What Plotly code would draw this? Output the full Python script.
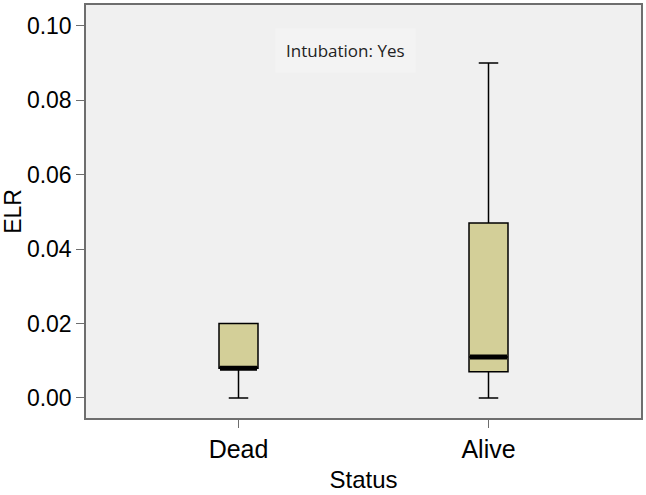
import plotly.graph_objects as go

categories = ["Dead", "Alive"]
lower_whisker = [0.0, 0.0]
q1_vals = [0.008, 0.007]
median_vals = [0.008, 0.011]
q3_vals = [0.020, 0.047]
upper_whisker = [0.020, 0.090]
y_ticks = [0.00, 0.02, 0.04, 0.06, 0.08, 0.10]
y_tick_labels = ["0.00", "0.02", "0.04", "0.06", "0.08", "0.10"]
panel_label = "Intubation: Yes"

fig = go.Figure()
fig.add_trace(go.Box(
    x=categories, q1=q1_vals, median=median_vals, q3=q3_vals,
    lowerfence=lower_whisker, upperfence=upper_whisker,
    fillcolor="#d3cf98", line=dict(color="black", width=1.5),
    width=0.156, whiskerwidth=0.5, boxpoints=False, showlegend=False,
))
# thick median bar (SPSS style)
fig.add_trace(go.Box(
    x=categories, q1=median_vals, median=median_vals, q3=median_vals,
    lowerfence=median_vals, upperfence=median_vals,
    fillcolor="black", line=dict(color="black", width=5),
    width=0.148, whiskerwidth=0, boxpoints=False, showlegend=False,
))

font = "Liberation Sans, Arial, sans-serif"
fig.update_layout(
    width=646, height=495,
    margin=dict(l=86, r=5, t=5, b=77),
    paper_bgcolor="white", plot_bgcolor="#f0f0f0",
    font=dict(family=font, size=22, color="black"),
    boxmode="overlay",
    xaxis=dict(
        range=[-0.61, 1.61], showgrid=False, zeroline=False, automargin=False,
        showline=True, linecolor="#6e6e6e", linewidth=1.5, mirror=True,
        ticks="outside", ticklen=8, tickcolor="#6e6e6e",
        tickfont=dict(size=25),
        title=dict(text="Status", font=dict(size=24), standoff=9),
    ),
    yaxis=dict(
        range=[-0.0054, 0.1056], showgrid=False, zeroline=False, automargin=False,
        tickvals=y_ticks, ticktext=y_tick_labels,
        showline=True, linecolor="#6e6e6e", linewidth=1.5, mirror=True,
        ticks="outside", ticklen=8, tickcolor="#6e6e6e",
        tickfont=dict(size=23),
        title=dict(text="ELR", font=dict(size=23), standoff=4),
    ),
    annotations=[dict(
        text=panel_label, xref="paper", yref="paper", x=0.467, y=0.889,
        xanchor="center", yanchor="middle",
        showarrow=False, font=dict(family="Open Sans, sans-serif", size=17, color="#222"),
        bgcolor="#f3f3f3", borderpad=10,
    )],
)
fig.write_html(
    "out.html",
    config={"displayModeBar": False},
    post_script="document.body.style.margin='0';document.body.style.overflow='hidden';",
)
